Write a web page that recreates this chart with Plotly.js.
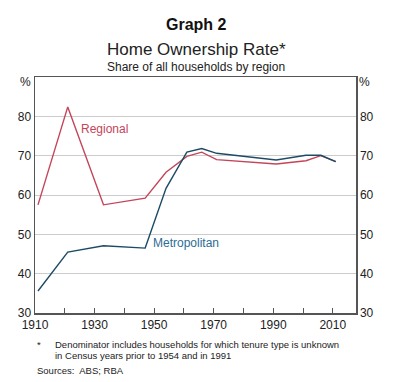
<!DOCTYPE html>
<html>
<head>
<meta charset="utf-8">
<script src="https://cdn.plot.ly/plotly-3.0.1.min.js"></script>
<style>html,body{margin:0;padding:0;background:#fff;}#chart{width:397px;height:382px;}</style>
</head>
<body>
<div id="chart"></div>
<script>
// Data
const regionalYears = [1911, 1921, 1933, 1947, 1954, 1961, 1966, 1971, 1991, 2001, 2006, 2011];
const regionalValues = [57.5, 82.4, 57.5, 59.2, 65.8, 69.8, 70.9, 69.0, 67.9, 68.7, 70.0, 68.5];
const metroYears = [1911, 1921, 1933, 1947, 1954, 1961, 1966, 1971, 1991, 2001, 2006, 2011];
const metroValues = [35.6, 45.5, 47.1, 46.5, 61.7, 70.9, 71.8, 70.6, 68.9, 70.1, 70.1, 68.5];
const xTickVals = [1910, 1920, 1930, 1940, 1950, 1960, 1970, 1980, 1990, 2000, 2010];
const xTickText = ['1910', '', '1930', '', '1950', '', '1970', '', '1990', '', '2010'];
const yTickVals = [30, 40, 50, 60, 70, 80];

const FONT = 'Liberation Sans, Arial, sans-serif';
const RED = '#c4455a';
const BLUE = '#1d4b66';
const AXIS = '#555555';

// plot area in pixels
const L = 35.4, R = 355.7, T = 77.3, B = 313.3;
const px = x => (x - L) / (R - L);
const py = y => (B - y) / (B - T);

const traces = [
  {x: regionalYears, y: regionalValues, type: 'scatter', mode: 'lines', name: 'Regional',
   line: {color: RED, width: 1.4}, hoverinfo: 'skip', yaxis: 'y'},
  {x: metroYears, y: metroValues, type: 'scatter', mode: 'lines', name: 'Metropolitan',
   line: {color: BLUE, width: 1.4}, hoverinfo: 'skip', yaxis: 'y2'}
];

const ann = (text, x, y, opts) => Object.assign({
  text: text, xref: 'paper', yref: 'paper', x: px(x), y: py(y), showarrow: false,
  font: {family: FONT, size: 12, color: '#222'}, xanchor: 'center', yanchor: 'middle'
}, opts || {});

const layout = {
  width: 397, height: 382,
  margin: {l: L, r: 397 - R, t: T, b: 382 - B, pad: 0},
  paper_bgcolor: '#fff', plot_bgcolor: '#fff',
  showlegend: false,
  font: {family: FONT, size: 12, color: '#222'},
  xaxis: {
    range: [1910, 2017.8], tickvals: xTickVals, ticktext: xTickText,
    ticks: 'inside', ticklen: 5, tickwidth: 1, tickcolor: AXIS,
    showline: true, linecolor: AXIS, linewidth: 1.5, mirror: true,
    showgrid: false, zeroline: false,
    tickfont: {family: FONT, size: 12, color: '#222'}
  },
  yaxis: {
    range: [30, 90], tickvals: yTickVals, ticks: '',
    showline: true, linecolor: AXIS, linewidth: 1.5,
    showgrid: true, gridcolor: '#cccccc', gridwidth: 1, zeroline: false,
    tickfont: {family: FONT, size: 12, color: '#222'}
  },
  yaxis2: {
    matches: 'y', overlaying: 'y', side: 'right', tickvals: yTickVals, ticks: '',
    showline: true, linecolor: AXIS, linewidth: 1.5, showgrid: false, zeroline: false,
    tickfont: {family: FONT, size: 12, color: '#222'}
  },
  annotations: [
    ann('<b>Graph 2</b>', 196.5, 25, {font: {family: FONT, size: 16, color: '#111'}}),
    ann('Home Ownership Rate*', 196.5, 50, {font: {family: FONT, size: 17, color: '#222'}}),
    ann('Share of all households by region', 196.5, 67, {font: {family: FONT, size: 12, color: '#222'}}),
    ann('%', 33.5, 82, {xanchor: 'right'}),
    ann('%', 357, 82, {xanchor: 'left'}),
    ann('Regional', 105, 129, {font: {family: FONT, size: 12, color: RED}}),
    ann('Metropolitan', 186, 243, {font: {family: FONT, size: 12, color: '#2c6d95'}}),
    ann('*', 35, 345, {xanchor: 'left', font: {family: FONT, size: 9.5, color: '#222'}}),
    ann('Denominator includes households for which tenure type is unknown', 53, 345, {xanchor: 'left', font: {family: FONT, size: 9.5, color: '#222'}}),
    ann('in Census years prior to 1954 and in 1991', 53, 355.5, {xanchor: 'left', font: {family: FONT, size: 9.5, color: '#222'}}),
    ann('Sources:  ABS; RBA', 35, 371, {xanchor: 'left', font: {family: FONT, size: 9.5, color: '#222'}})
  ]
};

Plotly.newPlot('chart', traces, layout, {staticPlot: true, displayModeBar: false});
</script>
</body>
</html>
